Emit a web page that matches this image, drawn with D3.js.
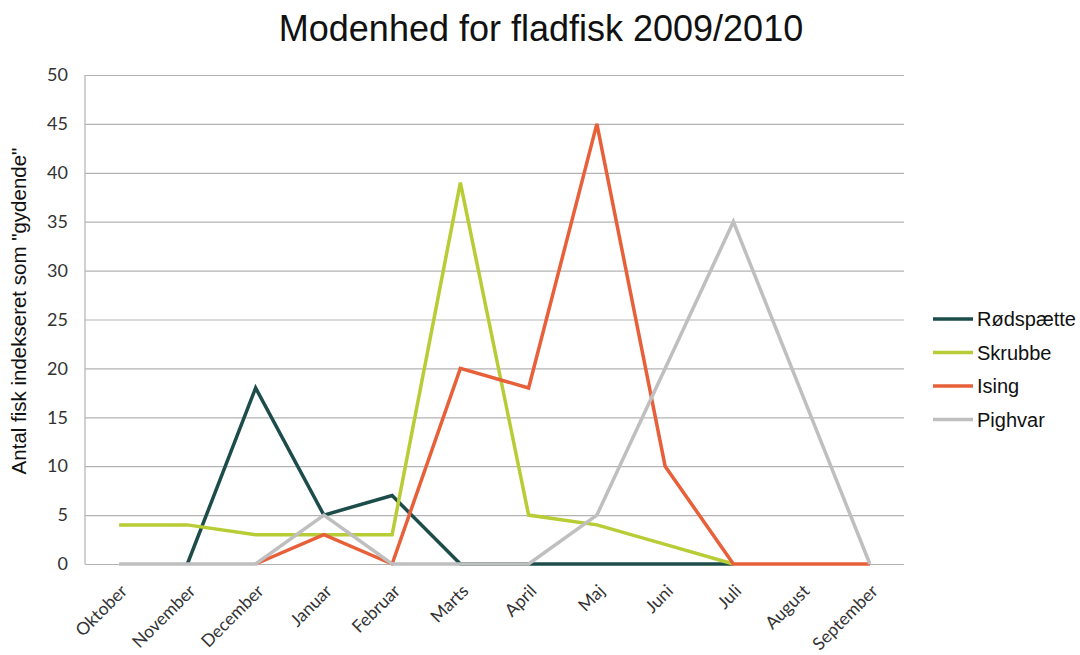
<!DOCTYPE html>
<html>
<head>
<meta charset="utf-8">
<script src="https://cdn.jsdelivr.net/npm/d3@7"></script>
<style>
  body { margin: 0; background: #fff; }
  .grid line { stroke: #b3b3b3; stroke-width: 1.2; }
  .grid path { stroke: none; }
  .axis text { font-family: Lato, "Open Sans", sans-serif; fill: #333; }
  .line { fill: none; stroke-width: 3.5; stroke-linejoin: miter; }
</style>
</head>
<body>
<div id="chart"></div>
<script>
var w = 1080;
var h = 655;

var months = ["Oktober", "November", "December", "Januar", "Februar", "Marts",
              "April", "Maj", "Juni", "Juli", "August", "September"];
var seriesNames = ["Rødspætte", "Skrubbe", "Ising", "Pighvar"];
var colors = ["#1d4d4b", "#b8cc35", "#e8603a", "#bfbfbf"];

// null = no value that month
var rodspaette = [null, 0, 18, 5, 7, 0, 0, 0, 0, 0, null, null];
var skrubbe    = [4, 4, 3, 3, 3, 39, 5, 4, 2, 0, null, null];
var ising      = [null, null, 0, 3, 0, 20, 18, 45, 10, 0, 0, 0];
var pighvar    = [0, 0, 0, 5, 0, 0, 0, 5, 20, 35, 17.5, 0];

var yTicks = [0, 5, 10, 15, 20, 25, 30, 35, 40, 45, 50];

var allSeries = [rodspaette, skrubbe, ising, pighvar];

var plotLeft = 85, plotRight = 904, plotTop = 75, plotBottom = 564;

var xScale = d3.scaleBand()
    .domain(months)
    .range([plotLeft, plotRight]);

var yScale = d3.scaleLinear()
    .domain([0, 50])
    .range([plotBottom, plotTop]);

var svg = d3.select("#chart")
    .append("svg")
    .attr("width", w)
    .attr("height", h);

// title
svg.append("text")
    .attr("x", 541)
    .attr("y", 41)
    .attr("text-anchor", "middle")
    .style("font-family", "'Liberation Sans', Arial, sans-serif")
    .style("font-size", "36px")
    .style("fill", "#111")
    .text("Modenhed for fladfisk 2009/2010");

// gridlines
svg.append("g")
    .attr("class", "grid")
    .attr("transform", "translate(" + plotLeft + ",0)")
    .call(d3.axisRight(yScale).tickValues(yTicks).tickSize(plotRight - plotLeft).tickFormat(""));

// left axis line
svg.append("line")
    .attr("x1", plotLeft).attr("x2", plotLeft)
    .attr("y1", plotTop).attr("y2", plotBottom)
    .attr("stroke", "#b3b3b3")
    .attr("stroke-width", 1.2);

// y axis labels
var yAxis = svg.append("g")
    .attr("class", "axis")
    .attr("transform", "translate(" + plotLeft + ",0)")
    .call(d3.axisLeft(yScale).tickValues(yTicks).tickSize(0).tickPadding(17));
yAxis.select(".domain").remove();
yAxis.selectAll("text").style("font-size", "18px");

// x axis labels
var xAxis = svg.append("g")
    .attr("class", "axis")
    .attr("transform", "translate(0," + plotBottom + ")")
    .call(d3.axisBottom(xScale).tickSize(0));
xAxis.select(".domain").remove();
xAxis.selectAll("text")
    .style("font-size", "17.5px")
    .attr("text-anchor", "end")
    .attr("dy", 0)
    .attr("transform", "translate(7,26) rotate(-45)");

// y axis title
svg.append("text")
    .attr("transform", "translate(26,311) rotate(-90)")
    .attr("text-anchor", "middle")
    .style("font-family", "'Liberation Sans', Arial, sans-serif")
    .style("font-size", "20.5px")
    .style("fill", "#111")
    .text("Antal fisk indekseret som \"gydende\"");

// lines
var line = d3.line()
    .defined(function(d) { return d != null; })
    .x(function(d, i) { return xScale(months[i]) + xScale.bandwidth() / 2; })
    .y(function(d) { return yScale(d); });

// series order, last one on top
allSeries.forEach(function(s, k) {
    svg.append("path")
        .datum(s)
        .attr("class", "line")
        .attr("stroke", colors[k])
        .attr("d", line);
});

// legend
var legend = svg.append("g")
    .attr("transform", "translate(933,319)");

seriesNames.forEach(function(name, i) {
    var g = legend.append("g").attr("transform", "translate(0," + (i * 33.5) + ")");
    g.append("line")
        .attr("x1", 0).attr("x2", 40)
        .attr("y1", 0).attr("y2", 0)
        .attr("stroke", colors[i])
        .attr("stroke-width", 3.5);
    g.append("text")
        .attr("x", 44)
        .attr("y", 7)
        .style("font-family", "'Liberation Sans', Arial, sans-serif")
        .style("font-size", "20px")
        .style("fill", "#111")
        .text(name);
});
</script>
</body>
</html>
